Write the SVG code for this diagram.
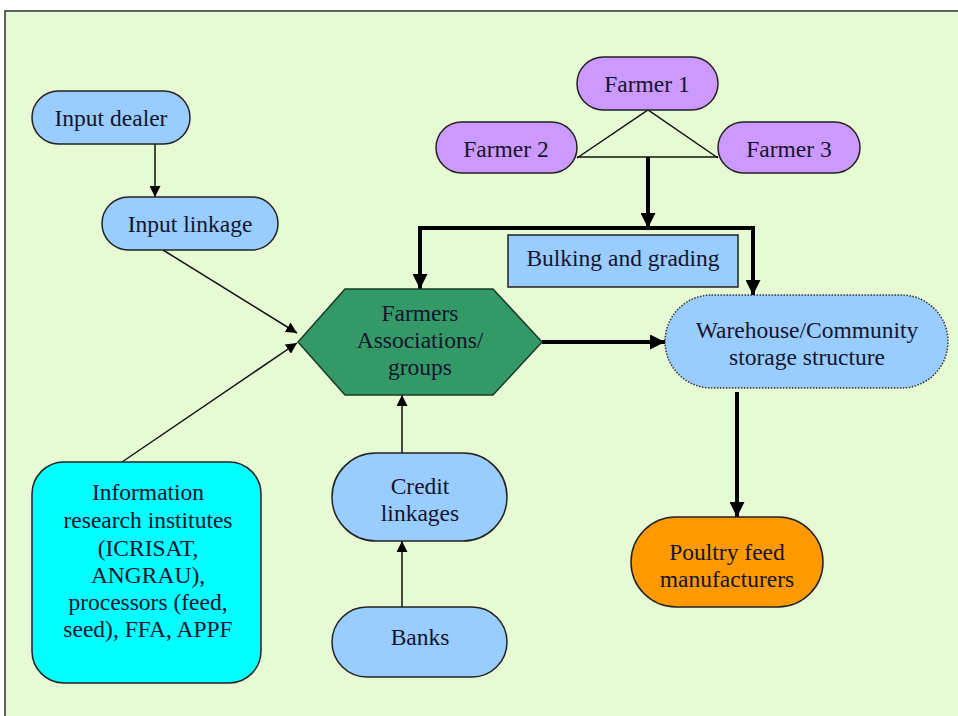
<svg xmlns="http://www.w3.org/2000/svg" width="958" height="716" viewBox="0 0 958 716">
<style>
  text { font-family: "Liberation Serif", "Times New Roman", serif; font-size: 23.5px; fill: #14142e; text-anchor: middle; dominant-baseline: central; }
  .blue { fill: #99CCFF; stroke: #222; stroke-width: 1.5; }
  .purple { fill: #CC99FF; stroke: #222; stroke-width: 1.5; }
  .thin { stroke: #111; stroke-width: 1.5; fill: none; }
  .thick { stroke: #000; stroke-width: 4; fill: none; }
</style>
<defs>
  <marker id="ah" viewBox="0 0 10 10" refX="10" refY="5" markerWidth="11" markerHeight="11" markerUnits="userSpaceOnUse" orient="auto">
    <path d="M0,0 L10,5 L0,10 z" fill="#000"/>
  </marker>
  <marker id="ahb" viewBox="0 0 10 10" refX="10" refY="5" markerWidth="15" markerHeight="15" markerUnits="userSpaceOnUse" orient="auto">
    <path d="M0,0 L10,5 L0,10 z" fill="#000"/>
  </marker>
</defs>
<rect x="0" y="0" width="958" height="716" fill="#ffffff"/>
<rect x="5" y="11" width="970" height="720" fill="#E6FAD4" stroke="#333" stroke-width="1.5"/>

<g id="connectors">
  <line class="thin" x1="155" y1="144" x2="155" y2="197" marker-end="url(#ah)"/>
  <line class="thin" x1="163" y1="250" x2="297" y2="333" marker-end="url(#ah)"/>
  <line class="thin" x1="122" y1="462" x2="297" y2="343" marker-end="url(#ah)"/>
  <line class="thin" x1="402" y1="453" x2="402" y2="395" marker-end="url(#ah)"/>
  <line class="thin" x1="402" y1="607" x2="402" y2="541" marker-end="url(#ah)"/>
  <polyline class="thin" points="577,158 648,110 718,158"/>
  <line class="thin" x1="577" y1="157" x2="718" y2="157"/>
  <line class="thick" x1="648" y1="157" x2="648" y2="228" marker-end="url(#ahb)"/>
  <polyline class="thick" points="420,289 420,228 753,228 753,295" stroke-linejoin="miter"/>
  <line class="thick" x1="420" y1="250" x2="420" y2="289" marker-end="url(#ahb)"/>
  <line class="thick" x1="753" y1="260" x2="753" y2="295" marker-end="url(#ahb)"/>
  <line class="thick" x1="542" y1="342" x2="665" y2="342" marker-end="url(#ahb)"/>
  <line class="thick" x1="737" y1="392" x2="737" y2="517" marker-end="url(#ahb)"/>
</g>

<g id="input-dealer">
  <rect class="blue" x="32" y="91" width="158" height="53" rx="26.5"/>
  <text x="111" y="118">Input dealer</text>
</g>
<g id="input-linkage">
  <rect class="blue" x="102" y="197" width="176" height="53" rx="26.5"/>
  <text x="190" y="224">Input linkage</text>
</g>
<g id="farmer1">
  <rect class="purple" x="577" y="57" width="141" height="53" rx="26.5"/>
  <text x="647" y="84">Farmer 1</text>
</g>
<g id="farmer2">
  <rect class="purple" x="436" y="122" width="141" height="51" rx="25.5"/>
  <text x="506" y="149">Farmer 2</text>
</g>
<g id="farmer3">
  <rect class="purple" x="718" y="122" width="142" height="51" rx="25.5"/>
  <text x="789" y="149">Farmer 3</text>
</g>
<g id="bulking">
  <rect class="blue" x="508" y="235" width="230" height="52"/>
  <text x="623" y="258">Bulking and grading</text>
</g>
<g id="farmers-associations">
  <polygon points="298,342 345,289 493,289 542,342 493,395 345,395" fill="#339966" stroke="#1a3a2a" stroke-width="1.5"/>
  <text x="420" y="313">Farmers</text>
  <text x="420" y="340">Associations/</text>
  <text x="420" y="367">groups</text>
</g>
<g id="warehouse">
  <rect x="665" y="295" width="283" height="93" rx="46.5" fill="#99CCFF" stroke="#333" stroke-width="1.5" stroke-dasharray="1.5,1.5"/>
  <text x="807" y="330">Warehouse/Community</text>
  <text x="807" y="357">storage structure</text>
</g>
<g id="information">
  <rect x="32" y="462" width="229" height="221" rx="32" fill="#00FFFF" stroke="#222" stroke-width="1.5"/>
  <text x="148" y="492">Information</text>
  <text x="148" y="520">research institutes</text>
  <text x="148" y="548">(ICRISAT,</text>
  <text x="148" y="575">ANGRAU),</text>
  <text x="148" y="602">processors (feed,</text>
  <text x="148" y="629">seed), FFA, APPF</text>
</g>
<g id="credit">
  <rect class="blue" x="332" y="453" width="175" height="88" rx="44"/>
  <text x="420" y="486">Credit</text>
  <text x="420" y="513">linkages</text>
</g>
<g id="banks">
  <rect class="blue" x="332" y="607" width="175" height="70" rx="35"/>
  <text x="420" y="637">Banks</text>
</g>
<g id="poultry">
  <rect x="631" y="517" width="192" height="90" rx="45" fill="#FF9900" stroke="#222" stroke-width="1.5"/>
  <text x="727" y="552">Poultry feed</text>
  <text x="727" y="579">manufacturers</text>
</g>
</svg>
